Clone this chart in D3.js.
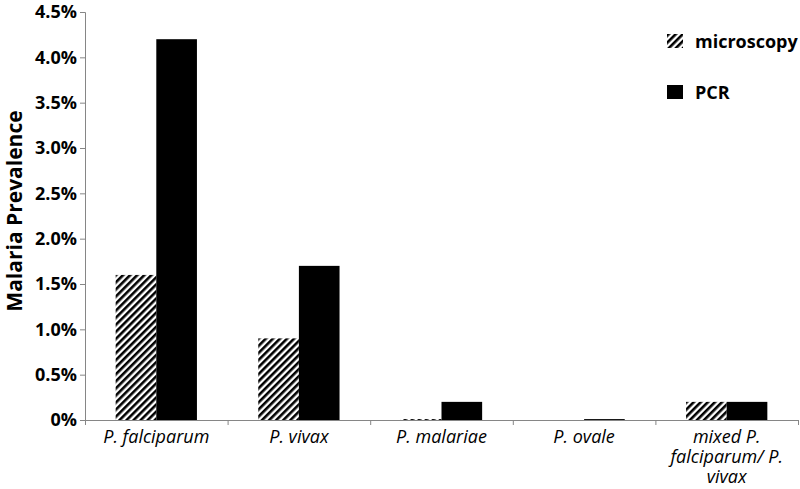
<!DOCTYPE html>
<html>
<head>
<meta charset="utf-8">
<script src="https://cdn.jsdelivr.net/npm/d3@7"></script>
<style>
  body { margin: 0; background: #fff; }
  svg { display: block; }
</style>
</head>
<body>
<svg id="chart" width="800" height="489"></svg>
<script>
// data (prevalence, %)
var categories = [
  ["P. falciparum"],
  ["P. vivax"],
  ["P. malariae"],
  ["P. ovale"],
  ["mixed P.", "falciparum/ P.", "vivax"]
];
var microscopy = [1.6, 0.9, 0.01, 0, 0.2];
var pcr = [4.2, 1.7, 0.2, 0.01, 0.2];
var seriesNames = ["microscopy", "PCR"];
var yTicks = [0, 0.5, 1.0, 1.5, 2.0, 2.5, 3.0, 3.5, 4.0, 4.5];

var svg = d3.select("#chart");
var margin = { top: 12, right: 2, bottom: 69, left: 85 },
  w = 800 - margin.left - margin.right,
  h = 489 - margin.top - margin.bottom;

var g = svg.append("g").attr("transform", `translate(${margin.left}, ${margin.top})`);

// hatch pattern for microscopy
var defs = svg.append("defs");
defs.append("pattern")
  .attr("id", "hatch")
  .attr("patternUnits", "userSpaceOnUse")
  .attr("width", 5)
  .attr("height", 5)
  .attr("patternTransform", "rotate(45)")
  .append("rect")
  .attr("width", 2.6)
  .attr("height", 5)
  .attr("fill", "#000");

var x0 = d3.scaleBand()
  .domain(d3.range(categories.length))
  .range([0, w])
  .paddingInner(0.43)
  .paddingOuter(0.215);

var x1 = d3.scaleBand()
  .domain(seriesNames)
  .range([0, x0.bandwidth()]);

var y = d3.scaleLinear()
  .domain([0, 4.5])
  .range([h, 0]);

var fills = { microscopy: "url(#hatch)", PCR: "#000" };

// bars
var groups = g.selectAll(".grp")
  .data(categories.map((c, i) => ({ i: i, vals: [microscopy[i], pcr[i]] })))
  .join("g")
  .attr("class", "grp")
  .attr("transform", d => `translate(${x0(d.i)}, 0)`);

groups.selectAll("rect")
  .data(d => d.vals.map((v, k) => ({ key: seriesNames[k], v: v })))
  .join("rect")
  .attr("x", d => x1(d.key))
  .attr("y", d => y(d.v))
  .attr("width", x1.bandwidth())
  .attr("height", d => h - y(d.v))
  .attr("fill", d => fills[d.key]);

// y axis
var yAxis = g.append("g")
  .call(d3.axisLeft(y)
    .tickValues(yTicks)
    .tickSize(5)
    .tickPadding(3)
    .tickFormat(d => d === 0 ? "0%" : d.toFixed(1) + "%"));
yAxis.select(".domain").attr("stroke", "#868686");
yAxis.selectAll(".tick line").attr("stroke", "#868686");
yAxis.selectAll(".tick text")
  .attr("font-family", "'Open Sans', sans-serif")
  .attr("font-weight", "bold")
  .attr("font-size", "18px")
  .attr("fill", "#000");

// x axis
var xScaleTicks = d3.scaleLinear().domain([0, categories.length]).range([0, w]);
var xAxis = g.append("g")
  .attr("transform", `translate(0, ${h})`)
  .call(d3.axisBottom(xScaleTicks).tickValues(d3.range(categories.length + 1)).tickSize(5).tickFormat(""));
xAxis.select(".domain").attr("stroke", "#868686");
xAxis.selectAll(".tick line").attr("stroke", "#868686");

// category labels
var labels = g.selectAll(".xlab")
  .data(categories)
  .join("text")
  .attr("class", "xlab")
  .attr("x", (d, i) => x0(i) + x0.bandwidth() / 2)
  .attr("y", h + 23)
  .attr("text-anchor", "middle")
  .attr("font-family", "'Open Sans', sans-serif")
  .attr("font-style", "italic")
  .attr("font-size", "18px")
  .attr("fill", "#000");
labels.selectAll("tspan")
  .data(d => d)
  .join("tspan")
  .attr("x", function() { return this.parentNode.getAttribute("x"); })
  .attr("dy", (d, k) => k === 0 ? 0 : 20)
  .text(d => d);

// y axis title
svg.append("text")
  .attr("transform", `translate(22, ${margin.top + h / 2 - 5}) rotate(-90)`)
  .attr("text-anchor", "middle")
  .attr("font-family", "'Open Sans', sans-serif")
  .attr("font-weight", "bold")
  .attr("font-size", "21px")
  .attr("fill", "#000")
  .text("Malaria Prevalence");

// legend
var legend = svg.append("g").attr("transform", "translate(667, 34)");
var items = legend.selectAll(".li")
  .data(seriesNames)
  .join("g")
  .attr("class", "li")
  .attr("transform", (d, i) => `translate(0, ${i * 51})`);
items.append("rect")
  .attr("width", 16)
  .attr("height", 14)
  .attr("fill", d => fills[d]);
items.append("text")
  .attr("x", 28)
  .attr("y", 14)
  .attr("font-family", "'Open Sans', sans-serif")
  .attr("font-weight", "bold")
  .attr("font-size", "18px")
  .attr("fill", "#000")
  .text(d => d);
</script>
</body>
</html>
